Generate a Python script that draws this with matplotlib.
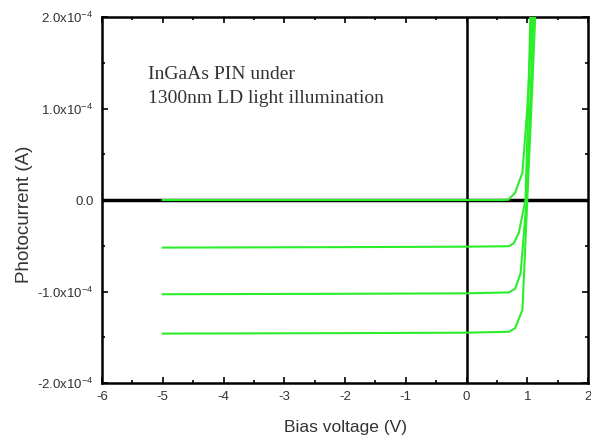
import matplotlib.pyplot as plt
from matplotlib.ticker import MultipleLocator

# data (A)
dark_v = [-5, 0.6, 0.69, 0.8, 0.92, 1.0, 1.08]
dark_i = [0, 0, 0.003e-4, 0.08e-4, 0.3e-4, 1.0e-4, 2.0e-4]

light1_v = [-5, -2, 0.0, 0.7, 0.78, 0.86, 0.97, 1.01, 1.05]
light1_i = [-0.52e-4, -0.515e-4, -0.51e-4, -0.505e-4, -0.47e-4, -0.36e-4, 0.0, 0.9e-4, 2.0e-4]

light2_v = [-5, -2, 0.0, 0.7, 0.8, 0.89, 0.99, 1.04, 1.1]
light2_i = [-1.03e-4, -1.025e-4, -1.02e-4, -1.01e-4, -0.97e-4, -0.8e-4, 0.0, 0.9e-4, 2.0e-4]

light3_v = [-5, -2, 0.0, 0.7, 0.8, 0.92, 1.0, 1.06, 1.13]
light3_i = [-1.46e-4, -1.455e-4, -1.45e-4, -1.44e-4, -1.40e-4, -1.2e-4, 0.0, 0.9e-4, 2.0e-4]

x_ticks = [-6, -5, -4, -3, -2, -1, 0, 1, 2]
y_ticks = [-2e-4, -1e-4, 0, 1e-4, 2e-4]
y_labels = [r'-2.0x10$^{-4}$', r'-1.0x10$^{-4}$', '0.0', r'1.0x10$^{-4}$', r'2.0x10$^{-4}$']

plt.rcParams['font.family'] = 'Liberation Sans'
plt.rcParams['axes.unicode_minus'] = False
plt.rcParams['mathtext.fontset'] = 'custom'
plt.rcParams['mathtext.rm'] = 'Liberation Sans'

fig = plt.figure(figsize=(5.91, 4.37), dpi=100)
ax = fig.add_axes([0.1726, 0.1236, 0.8224, 0.8374])

green = '#2aee2a'
for v, i in [(dark_v, dark_i), (light1_v, light1_i), (light2_v, light2_i), (light3_v, light3_i)]:
    ax.plot(v, i, color=green, linewidth=1.5, zorder=3)

# zero lines
ax.axhline(0, color='black', linewidth=2.5, zorder=2)
ax.axvline(0, color='black', linewidth=1.8, zorder=2)

ax.set_xlim(-6, 2)
ax.set_ylim(-2e-4, 2e-4)
ax.set_xticks(x_ticks)
ax.set_yticks(y_ticks)
ax.set_yticklabels(y_labels)
ax.xaxis.set_minor_locator(MultipleLocator(0.5))
ax.yaxis.set_minor_locator(MultipleLocator(0.5e-4))
ax.tick_params(which='both', direction='in', top=True, right=True, labelsize=9.5,
               labelcolor='#333333', width=1.2, pad=6)
ax.tick_params(which='major', length=4)
ax.tick_params(which='minor', length=2.5)
for s in ax.spines.values():
    s.set_linewidth(1.8)

ax.set_xlabel('Bias voltage (V)', fontsize=12.5, color='#333333')
ax.set_ylabel('Photocurrent (A)', fontsize=13.5, color='#333333')
ax.xaxis.set_label_coords(0.5, -0.102)
ax.yaxis.set_label_coords(-0.143, 0.462)

ax.text(-5.24, 1.24e-4, 'InGaAs PIN under\n1300nm LD light illumination',
        fontsize=14, family='Liberation Serif', color='#333333', va='center', linespacing=1.6)

plt.savefig('out.png', dpi=100)
